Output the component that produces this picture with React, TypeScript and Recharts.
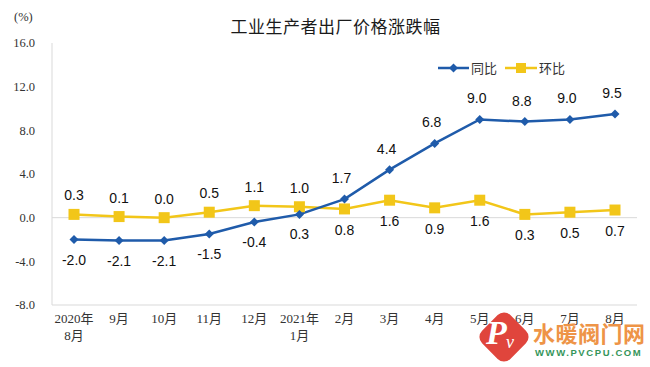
import React from "react";
import { LineChart, Line, XAxis, YAxis, ReferenceLine, LabelList } from "recharts";

const months = ["2020年|8月", "9月", "10月", "11月", "12月", "2021年|1月", "2月", "3月", "4月", "5月", "6月", "7月", "8月"];
const yoy = [-2.0, -2.1, -2.1, -1.5, -0.4, 0.3, 1.7, 4.4, 6.8, 9.0, 8.8, 9.0, 9.5];
const mom = [0.3, 0.1, 0.0, 0.5, 1.1, 1.0, 0.8, 1.6, 0.9, 1.6, 0.3, 0.5, 0.7];
const yTicks = [-8, -4, 0, 4, 8, 12, 16];
const seriesNames = ["同比", "环比"];

const data = months.map((m, i) => ({ month: m, yoy: yoy[i], mom: mom[i] }));

const BLUE = "#1F5BAA";
const YELLOW = "#F2C619";
const BORDER = "#d9d9d9";
const SANS = "'Liberation Sans', Arial, sans-serif";
const SERIF = "'Liberation Serif', 'Times New Roman', serif";
const CJK = "'Noto Sans CJK SC', sans-serif";

const XTick = (props: any) => {
  const { x, y, payload } = props;
  const parts = String(payload.value).split("|");
  return (
    <g>
      {parts.map((p, k) => (
        <text key={k} x={x} y={y + 17.5 + k * 17} textAnchor="middle" fontFamily={SERIF + ", 'Noto Sans CJK SC'"} fontSize={13} fill="#333">
          {p}
        </text>
      ))}
    </g>
  );
};

const Diamond = (props: any) => {
  const { cx, cy, index } = props;
  if (cx == null || cy == null) return <g key={index} />;
  const r = 4.5;
  return <polygon key={index} points={`${cx},${cy - r} ${cx + r},${cy} ${cx},${cy + r} ${cx - r},${cy}`} fill={BLUE} />;
};

const Square = (props: any) => {
  const { cx, cy, index } = props;
  if (cx == null || cy == null) return <g key={index} />;
  const s = 11;
  return <rect key={index} x={cx - s / 2} y={cy - s / 2} width={s} height={s} fill={YELLOW} />;
};

const yoyLabel = (props: any) => {
  const { x, y, value, index } = props;
  const above = index >= 6;
  const dy = above ? -21 : 20;
  const dx = above ? -3 : 0;
  return (
    <text x={x + dx} y={y + dy + 5} textAnchor="middle" fontFamily={SANS} fontSize={14} fill="#111">
      {Number(value).toFixed(1)}
    </text>
  );
};

const momLabel = (props: any) => {
  const { x, y, value, index } = props;
  const above = index < 6;
  const dy = above ? -19 : 21;
  return (
    <text x={x} y={y + dy + 5} textAnchor="middle" fontFamily={SANS} fontSize={14} fill="#111">
      {Number(value).toFixed(1)}
    </text>
  );
};

export default function App() {
  return (
    <div style={{ position: "absolute", left: 0, top: 0, width: 650, height: 367, background: "#fff", overflow: "hidden" }}>
      <LineChart width={650} height={367} data={data} margin={{ top: 43, right: 13, bottom: 22, left: 12 }}>
        <XAxis
          dataKey="month"
          height={40}
          padding={{ left: 22, right: 22 }}
          axisLine={{ stroke: BORDER }}
          tickLine={false}
          tickSize={0}
          tickMargin={0}
          tick={<XTick />}
          interval={0}
        />
        <XAxis xAxisId="top" dataKey="month" orientation="top" height={0} axisLine={{ stroke: BORDER }} tick={false} tickLine={false} />
        <YAxis
          domain={[-8, 16]}
          ticks={yTicks}
          width={40}
          axisLine={{ stroke: BORDER }}
          tickLine={false}
          tickSize={0}
          tickMargin={17}
          tickFormatter={(v: number) => v.toFixed(1)}
          tick={{ fontFamily: SERIF, fontSize: 12.5, fill: "#333" }}
          interval={0}
        />
        <YAxis yAxisId="right" orientation="right" domain={[-8, 16]} width={0} axisLine={{ stroke: BORDER }} tick={false} tickLine={false} />
        <ReferenceLine y={0} stroke={BORDER} strokeWidth={1} />
        <Line dataKey="mom" name={seriesNames[1]} stroke={YELLOW} strokeWidth={2.5} dot={<Square />} activeDot={false} isAnimationActive={false}>
          <LabelList dataKey="mom" content={momLabel} />
        </Line>
        <Line dataKey="yoy" name={seriesNames[0]} stroke={BLUE} strokeWidth={2.5} dot={<Diamond />} activeDot={false} isAnimationActive={false}>
          <LabelList dataKey="yoy" content={yoyLabel} />
        </Line>
      </LineChart>

      {/* title */}
      <div style={{ position: "absolute", left: 0, width: 671, top: 13, textAlign: "center", fontFamily: CJK, fontSize: 17, color: "#1a1a1a", letterSpacing: 0.5 }}>
        工业生产者出厂价格涨跌幅
      </div>
      {/* unit */}
      <div style={{ position: "absolute", left: 14, top: 10, fontFamily: SERIF, fontSize: 12.5, color: "#333" }}>(%)</div>

      {/* legend */}
      <svg style={{ position: "absolute", left: 0, top: 0 }} width={650} height={367}>
        <line x1={438} y1={68} x2={469} y2={68} stroke={BLUE} strokeWidth={2.5} />
        <polygon points="453.5,63.5 458,68 453.5,72.5 449,68" fill={BLUE} />
        <text x={471} y={73} fontFamily={CJK} fontSize={13} fill="#333">{seriesNames[0]}</text>
        <line x1={505} y1={68} x2={537} y2={68} stroke={YELLOW} strokeWidth={2.5} />
        <rect x={516} y={63} width={10} height={10} fill={YELLOW} />
        <text x={539} y={73} fontFamily={CJK} fontSize={13} fill="#333">{seriesNames[1]}</text>
      </svg>

      {/* watermark */}
      <div style={{ position: "absolute", left: 484, top: 317, width: 40, height: 40, background: "#E0453C", borderRadius: 9, transform: "rotate(45deg)" }} />
      <div style={{ position: "absolute", left: 486, top: 314, fontFamily: SERIF, fontStyle: "italic", fontWeight: "bold", fontSize: 34, color: "#fff" }}>P</div>
      <div style={{ position: "absolute", left: 506, top: 332, fontFamily: SERIF, fontStyle: "italic", fontSize: 18, color: "#fff" }}>v</div>
      <div style={{ position: "absolute", left: 533, top: 318, fontFamily: CJK, fontWeight: "bold", fontSize: 22, color: "#EE9447", lineHeight: "28px", letterSpacing: 0.5 }}>水暖阀门网</div>
      <div style={{ position: "absolute", left: 535, top: 347, fontFamily: SANS, fontWeight: "bold", fontSize: 9.5, color: "#35955A", letterSpacing: 1.6 }}>WWW.PVCPU.COM</div>
    </div>
  );
}
